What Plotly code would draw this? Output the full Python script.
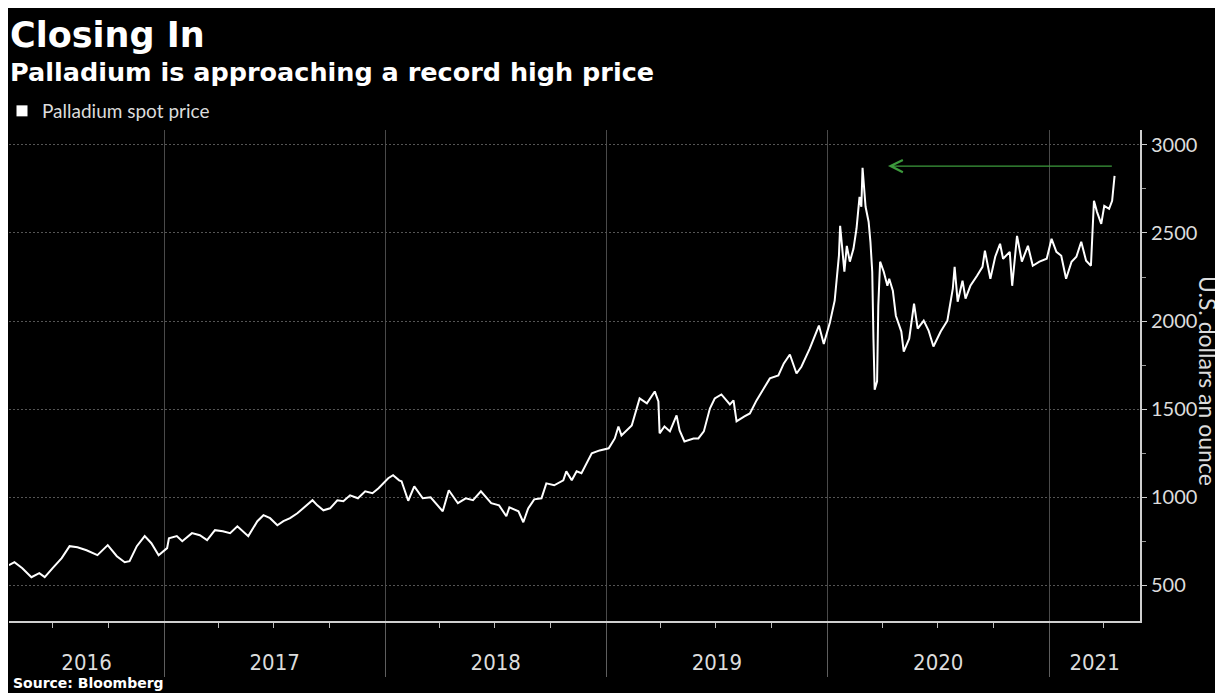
import plotly.graph_objects as go
import pandas as pd

# ---------------- data ----------------
dates = [
    "2016-04-20", "2016-04-29", "2016-05-12", "2016-05-27", "2016-06-09", "2016-06-18",
    "2016-07-01", "2016-07-16", "2016-07-29", "2016-08-11", "2016-08-26", "2016-09-05",
    "2016-09-13", "2016-09-30", "2016-10-15", "2016-10-28", "2016-11-05", "2016-11-17",
    "2016-11-30", "2016-12-11", "2016-12-23",
    "2017-01-06", "2017-01-09", "2017-01-22", "2017-01-31", "2017-02-16", "2017-03-01",
    "2017-03-13", "2017-03-26", "2017-04-08", "2017-04-20", "2017-05-02", "2017-05-11",
    "2017-05-20", "2017-06-04", "2017-06-14", "2017-06-25", "2017-07-07", "2017-07-17",
    "2017-07-28", "2017-08-09", "2017-08-19", "2017-09-03", "2017-09-11", "2017-09-21",
    "2017-10-02", "2017-10-14", "2017-10-24", "2017-11-04", "2017-11-17", "2017-11-29",
    "2017-12-11", "2017-12-21",
    "2018-01-06", "2018-01-14", "2018-01-24", "2018-01-28", "2018-02-08", "2018-02-18",
    "2018-03-04", "2018-03-17", "2018-04-06", "2018-04-16", "2018-05-01", "2018-05-14",
    "2018-05-26", "2018-06-08", "2018-06-25", "2018-07-08", "2018-07-20", "2018-07-25",
    "2018-08-09", "2018-08-17", "2018-08-25", "2018-09-04", "2018-09-16", "2018-09-24",
    "2018-10-07", "2018-10-22", "2018-10-27", "2018-11-05", "2018-11-13", "2018-11-21",
    "2018-12-08", "2018-12-21",
    "2019-01-05", "2019-01-15", "2019-01-21", "2019-01-26", "2019-02-12", "2019-02-25",
    "2019-03-09", "2019-03-22", "2019-03-28", "2019-03-30", "2019-04-07", "2019-04-16",
    "2019-04-27", "2019-05-02", "2019-05-10", "2019-05-25", "2019-06-02", "2019-06-11",
    "2019-06-21", "2019-06-29", "2019-07-10", "2019-07-24", "2019-07-30", "2019-08-04",
    "2019-08-17", "2019-08-26", "2019-09-06", "2019-09-18", "2019-09-28", "2019-10-12",
    "2019-10-21", "2019-10-31", "2019-11-11", "2019-11-19", "2019-12-03", "2019-12-18",
    "2019-12-26",
    "2020-01-05", "2020-01-13", "2020-01-20", "2020-01-22", "2020-01-29", "2020-02-02",
    "2020-02-07", "2020-02-13", "2020-02-18", "2020-02-23", "2020-02-26", "2020-02-28",
    "2020-03-04", "2020-03-09", "2020-03-12", "2020-03-15", "2020-03-17", "2020-03-19",
    "2020-03-23", "2020-03-25", "2020-03-28", "2020-04-03", "2020-04-09", "2020-04-12",
    "2020-04-18", "2020-04-23", "2020-05-02", "2020-05-06", "2020-05-15", "2020-05-23",
    "2020-05-29", "2020-06-08", "2020-06-16", "2020-06-24", "2020-07-06", "2020-07-17",
    "2020-07-26", "2020-07-29", "2020-08-03", "2020-08-11", "2020-08-16", "2020-08-24",
    "2020-09-04", "2020-09-13", "2020-09-17", "2020-09-26", "2020-10-04", "2020-10-12",
    "2020-10-17", "2020-10-28", "2020-11-01", "2020-11-09", "2020-11-17", "2020-11-27",
    "2020-12-05", "2020-12-16", "2020-12-28",
    "2021-01-05", "2021-01-13", "2021-01-21", "2021-01-29", "2021-02-07", "2021-02-15",
    "2021-02-23", "2021-03-03", "2021-03-11", "2021-03-16", "2021-03-21", "2021-03-28",
    "2021-04-02", "2021-04-10", "2021-04-15", "2021-04-19",
]
prices = [
    613, 630, 596, 545, 568, 545,
    596, 653, 721, 715, 698, 681,
    670, 727, 664, 630, 636, 721,
    778, 738, 670,
    710, 766, 778, 749, 795, 783,
    755, 812, 806, 795, 834, 806,
    778, 863, 897, 880, 840, 863,
    880, 908, 936, 982, 953, 925,
    936, 982, 976, 1010, 993, 1033,
    1022, 1050,
    1107, 1124, 1095, 1090, 979, 1061,
    993, 999, 919, 1039, 965, 993,
    982, 1033, 965, 953, 891, 942,
    919, 857, 936, 987, 993, 1078,
    1067, 1095, 1146, 1095, 1146, 1135,
    1248, 1265,
    1277, 1333, 1401, 1350, 1407, 1560,
    1532, 1600, 1543, 1362, 1401, 1373,
    1464, 1379, 1316, 1333, 1333, 1373,
    1503, 1560, 1583, 1526, 1549, 1430,
    1458, 1475, 1549, 1617, 1674, 1691,
    1759, 1810, 1702, 1740, 1844, 1974,
    1870,
    1990, 2116, 2371, 2541, 2280, 2427,
    2337, 2410, 2524, 2705, 2649, 2870,
    2649, 2564, 2450, 2280, 1900, 1610,
    1657, 2087, 2337, 2280, 2200, 2240,
    2172, 2030, 1940, 1826, 1900, 2098,
    1957, 2002, 1946, 1855, 1940, 2002,
    2184, 2308, 2110, 2229, 2127, 2200,
    2257, 2308, 2399, 2240, 2365, 2439,
    2354, 2393, 2200, 2484, 2337, 2427,
    2314, 2337, 2354,
    2467, 2393, 2371, 2240, 2337, 2365,
    2450, 2342, 2314, 2683, 2620, 2552,
    2654, 2637, 2683, 2824,
]
series_name = "Palladium spot price"
years = [2016, 2017, 2018, 2019, 2020, 2021]
y_ticks = [500, 1000, 1500, 2000, 2500, 3000]
x_range = ["2016-04-20", "2021-05-31"]
y_range = [296, 3085]
record_level = 2880
arrow_from = "2021-04-17"
arrow_to = "2020-04-10"

# ---------------- derived axis helpers ----------------
start, end = pd.Timestamp(x_range[0]), pd.Timestamp(x_range[1])
year_bounds = [pd.Timestamp(f"{y}-01-01") for y in years[1:]]
label_pos = []
for y in years:
    a = max(pd.Timestamp(f"{y}-01-01"), start)
    b = min(pd.Timestamp(f"{y + 1}-01-01"), end)
    label_pos.append(a + (b - a) / 2)
quarters = [d for d in pd.date_range("2016-01-01", x_range[1], freq="QS")
            if d.month != 1 and d >= start]

# page has an 8px body margin: figure drawn at (8, 8)
OFF = 8
W, H = 1223 - OFF, 693 - OFF
PLOT_L, PLOT_R, PLOT_T, PLOT_B = 9, 1140, 130, 621   # page pixels
L = PLOT_L - OFF
R = W - (PLOT_R - OFF)
T = PLOT_T - OFF
B = H - (PLOT_B - OFF)
plot_h = H - T - B
plot_w = W - L - R


def py(p):
    return (H - B - (p - OFF)) / plot_h


def px(p):
    return ((p - OFF) - L) / plot_w


TXT = "#dcdcdc"
LBL_FONT = "Lato, 'Open Sans', sans-serif"
NARROW = "'Liberation Sans Narrow', 'DejaVu Sans Condensed', sans-serif"
BOLD = "'DejaVu Sans', Verdana, sans-serif"

fig = go.Figure()
fig.add_trace(go.Scatter(
    x=dates, y=prices, mode="lines", name=series_name,
    line=dict(color="white", width=2), showlegend=False,
))
# legend swatch (white square)
fig.add_trace(go.Scatter(
    x=[None], y=[None], mode="markers", name=series_name, xaxis="x2",
    marker=dict(symbol="square", size=11, color="white"), showlegend=True,
))

fig.update_layout(
    width=W, height=H,
    paper_bgcolor="black", plot_bgcolor="black",
    margin=dict(l=L, r=R, t=T, b=B, autoexpand=False),
    showlegend=True,
    legend=dict(
        x=px(2), y=py(111), xanchor="left", yanchor="middle",
        font=dict(family=LBL_FONT, size=19, color=TXT),
        bgcolor="rgba(0,0,0,0)", itemwidth=30,
    ),
    xaxis=dict(
        type="date", range=x_range,
        tickmode="array", tickvals=year_bounds, showticklabels=False,
        ticks="outside", ticklen=54, tickwidth=1, tickcolor="#5e5e5e",
        showgrid=True, gridcolor="#4a4a4a", gridwidth=1,
        showline=True, linecolor="#cfcfcf", linewidth=2,
        zeroline=False,
        minor=dict(tickvals=quarters, ticks="outside", ticklen=5,
                   tickcolor="#bdbdbd", tickwidth=1, showgrid=False),
    ),
    xaxis2=dict(
        type="date", range=x_range, overlaying="x", anchor="y", side="bottom",
        tickmode="array", tickvals=label_pos, ticktext=[str(y) for y in years],
        ticks="outside", ticklen=22, tickcolor="rgba(0,0,0,0)",
        tickfont=dict(family=NARROW, size=22, color=TXT),
        showgrid=False, showline=False, zeroline=False,
    ),
    yaxis=dict(
        side="right", range=y_range,
        tickmode="array", tickvals=y_ticks,
        ticks="outside", ticklen=5, tickwidth=1, tickcolor="#cfcfcf",
        tickfont=dict(family=LBL_FONT, size=20, color=TXT),
        showgrid=True, gridcolor="#555555", gridwidth=1, griddash="2px,2px",
        showline=True, linecolor="#cfcfcf", linewidth=2,
        zeroline=False,
        minor=dict(dtick=250, tick0=0, ticks="outside", ticklen=4,
                   tickcolor="#9a9a9a", showgrid=False),
    ),
    annotations=[
        dict(text="<b>Closing In</b>", xref="paper", yref="paper",
             x=px(8), y=py(35), xanchor="left", yanchor="middle",
             showarrow=False, font=dict(family=BOLD, size=35, color="white")),
        dict(text="<b>Palladium is approaching a record high price</b>",
             xref="paper", yref="paper", x=px(8), y=py(72),
             xanchor="left", yanchor="middle", showarrow=False,
             font=dict(family=BOLD, size=25.5, color="white")),
        dict(text="U.S. dollars an ounce", xref="paper", yref="paper",
             x=px(1208), y=py(381), xanchor="center", yanchor="middle",
             textangle=90, showarrow=False,
             font=dict(family=LBL_FONT, size=23, color=TXT)),
        dict(text="<b>Source: Bloomberg</b>", xref="paper", yref="paper",
             x=px(11), y=py(683), xanchor="left", yanchor="middle",
             showarrow=False, font=dict(family=BOLD, size=14, color="white")),
        dict(text="", x=arrow_to, y=record_level, xref="x", yref="y",
             ax=arrow_from, ay=record_level, axref="x", ayref="y",
             showarrow=True, arrowhead=5, arrowsize=2, arrowwidth=1.2,
             arrowcolor="#3c9a3c"),
    ],
)

fig.write_html("out.html")
